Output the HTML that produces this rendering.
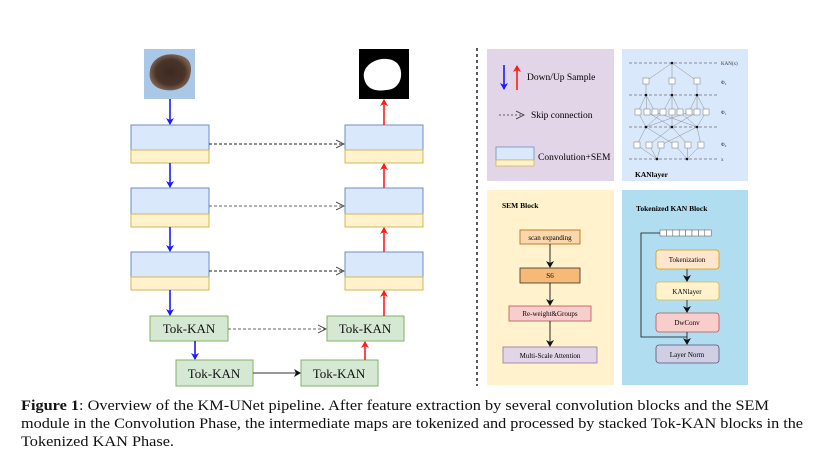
<!DOCTYPE html>
<html><head><meta charset="utf-8"><style>
html,body{margin:0;padding:0;background:#fff;}
svg{display:block;font-family:"Liberation Serif",serif;}
</style></head><body>
<svg width="817" height="471" viewBox="0 0 817 471" xmlns="http://www.w3.org/2000/svg">
<defs>
<marker id="ab" markerWidth="8" markerHeight="8" refX="6" refY="4" orient="auto" markerUnits="userSpaceOnUse"><path d="M0,0 L7,4 L0,8 L2,4z" fill="#1a1aff"/></marker>
<marker id="ar" markerWidth="8" markerHeight="8" refX="6" refY="4" orient="auto" markerUnits="userSpaceOnUse"><path d="M0,0 L7,4 L0,8 L2,4z" fill="#ff1a1a"/></marker>
<marker id="ak" markerWidth="8" markerHeight="8" refX="6" refY="4" orient="auto" markerUnits="userSpaceOnUse"><path d="M0,0 L7,4 L0,8 L2,4z" fill="#111"/></marker>
<marker id="ao" markerWidth="10" markerHeight="10" refX="8" refY="5" orient="auto" markerUnits="userSpaceOnUse"><path d="M0,1 L8,5 L0,9" fill="none" stroke="#333" stroke-width="0.8"/></marker>
<radialGradient id="les" cx="50%" cy="50%" r="50%"><stop offset="0" stop-color="#3b2a22"/><stop offset="0.7" stop-color="#4a3428"/><stop offset="1" stop-color="#7a6050"/></radialGradient>
</defs>

<!-- input image -->
<rect x="144" y="49" width="51" height="50" fill="#a9c8e8"/>
<path d="M150,70 C152,58 165,52 178,55 C190,57 193,66 190,76 C188,86 178,92 165,90 C153,88 148,80 150,70z" fill="url(#les)"/>
<!-- output mask -->
<rect x="359" y="49" width="50" height="50" fill="#000"/>
<path d="M364,78 C362,68 372,60 382,59 C392,58 400,62 401,72 C402,82 396,90 386,90 C374,92 366,88 364,78z" fill="#fff"/>

<!-- left blocks -->
<g stroke-width="1">
<rect x="131" y="125" width="78" height="25" fill="#dae8fc" stroke="#6c8ebf"/>
<rect x="131" y="150" width="78" height="13" fill="#fff2cc" stroke="#d6b656"/>
<rect x="131" y="188" width="78" height="26" fill="#dae8fc" stroke="#6c8ebf"/>
<rect x="131" y="214" width="78" height="13" fill="#fff2cc" stroke="#d6b656"/>
<rect x="131" y="252" width="78" height="25" fill="#dae8fc" stroke="#6c8ebf"/>
<rect x="131" y="277" width="78" height="13" fill="#fff2cc" stroke="#d6b656"/>
<rect x="345" y="125" width="78" height="25" fill="#dae8fc" stroke="#6c8ebf"/>
<rect x="345" y="150" width="78" height="13" fill="#fff2cc" stroke="#d6b656"/>
<rect x="345" y="188" width="78" height="26" fill="#dae8fc" stroke="#6c8ebf"/>
<rect x="345" y="214" width="78" height="13" fill="#fff2cc" stroke="#d6b656"/>
<rect x="345" y="252" width="78" height="25" fill="#dae8fc" stroke="#6c8ebf"/>
<rect x="345" y="277" width="78" height="13" fill="#fff2cc" stroke="#d6b656"/>
<rect x="150" y="316" width="78" height="25" fill="#d5e8d4" stroke="#82b366"/>
<rect x="327" y="316" width="77" height="25" fill="#d5e8d4" stroke="#82b366"/>
<rect x="176" y="360" width="77" height="26" fill="#d5e8d4" stroke="#82b366"/>
<rect x="301" y="360" width="77" height="26" fill="#d5e8d4" stroke="#82b366"/>
</g>
<g font-size="13" text-anchor="middle" fill="#111">
<text x="189" y="333">Tok-KAN</text>
<text x="365" y="333">Tok-KAN</text>
<text x="214" y="378">Tok-KAN</text>
<text x="339" y="378">Tok-KAN</text>
</g>
<!-- blue down arrows -->
<g stroke="#1a1aff" stroke-width="1.6" marker-end="url(#ab)">
<line x1="170" y1="99" x2="170" y2="124"/>
<line x1="170" y1="163" x2="170" y2="187"/>
<line x1="170" y1="227" x2="170" y2="251"/>
<line x1="170" y1="290" x2="170" y2="315"/>
<line x1="195" y1="341" x2="195" y2="359"/>
</g>
<g stroke="#ff1a1a" stroke-width="1.6" marker-end="url(#ar)">
<line x1="384" y1="125" x2="384" y2="100"/>
<line x1="384" y1="188" x2="384" y2="164"/>
<line x1="384" y1="252" x2="384" y2="228"/>
<line x1="384" y1="316" x2="384" y2="291"/>
<line x1="365" y1="360" x2="365" y2="342"/>
</g>
<g stroke="#222" stroke-width="0.9" stroke-dasharray="3,2" fill="none">
<line x1="209" y1="144" x2="344" y2="144" marker-end="url(#ao)"/>
<line x1="209" y1="206" x2="344" y2="206" marker-end="url(#ao)" stroke="#666"/>
<line x1="209" y1="271" x2="344" y2="271" marker-end="url(#ao)"/>
<line x1="228" y1="329" x2="326" y2="329" marker-end="url(#ao)" stroke="#666"/>
</g>
<line x1="253" y1="373" x2="300" y2="373" stroke="#333" stroke-width="0.9" marker-end="url(#ak)"/>

<!-- vertical divider -->
<line x1="477" y1="48" x2="477" y2="386" stroke="#000" stroke-width="1.3" stroke-dasharray="3,3"/>

<!-- legend panel -->
<rect x="487" y="49" width="127" height="132" fill="#e1d5e7"/>
<line x1="504" y1="65" x2="504" y2="89" stroke="#1a1aff" stroke-width="1.6" marker-end="url(#ab)"/>
<line x1="517" y1="90" x2="517" y2="66" stroke="#ff1a1a" stroke-width="1.6" marker-end="url(#ar)"/>
<text x="527" y="80" font-size="9.5">Down/Up Sample</text>
<line x1="499" y1="115" x2="524" y2="115" stroke="#333" stroke-width="0.8" stroke-dasharray="2,2" marker-end="url(#ao)"/>
<text x="531" y="118" font-size="9.5">Skip connection</text>
<rect x="496" y="147" width="38" height="13" fill="#dae8fc" stroke="#6c8ebf" stroke-width="0.8"/>
<rect x="496" y="160" width="38" height="6" fill="#fff2cc" stroke="#d6b656" stroke-width="0.8"/>
<text x="538" y="160" font-size="9.5">Convolution+SEM</text>

<!-- KAN layer panel -->
<rect x="622" y="49" width="126" height="132" fill="#dae8fc"/>
<g stroke="#333" stroke-width="0.6" stroke-dasharray="3,2">
<line x1="629" y1="63" x2="718" y2="63"/><line x1="629" y1="95" x2="718" y2="95"/>
<line x1="629" y1="127" x2="718" y2="127"/><line x1="629" y1="159" x2="718" y2="159"/>
</g>
<g stroke="#777" stroke-width="0.4" fill="none">
<path d="M672,63 L646,81 L646,95 M672,63 L672,95 M672,63 L697,81 L697,95"/>
<path d="M646,95 L638,112 L646,127 M646,95 L647,112 L672,127 M646,95 L655,112 L697,127 M672,95 L663,112 L646,127 M672,95 L672,112 L672,127 M672,95 L680,112 L697,127 M697,95 L689,112 L646,127 M697,95 L697,112 L672,127 M697,95 L706,112 L697,127"/>
<path d="M657,159 L637,145 L646,127 M657,159 L649,145 L672,127 M657,159 L661,145 L697,127 M687,159 L675,145 L646,127 M687,159 L688,145 L672,127 M687,159 L701,145 L697,127"/>
</g>
<g fill="#fff" stroke="#777" stroke-width="0.5">
<rect x="643" y="78" width="6" height="6"/><rect x="669" y="78" width="6" height="6"/><rect x="694" y="78" width="6" height="6"/>
<rect x="635" y="109" width="6" height="6"/><rect x="644" y="109" width="6" height="6"/><rect x="652" y="109" width="6" height="6"/><rect x="660" y="109" width="6" height="6"/><rect x="669" y="109" width="6" height="6"/><rect x="677" y="109" width="6" height="6"/><rect x="686" y="109" width="6" height="6"/><rect x="694" y="109" width="6" height="6"/><rect x="703" y="109" width="6" height="6"/>
<rect x="634" y="142" width="6" height="6"/><rect x="646" y="142" width="6" height="6"/><rect x="658" y="142" width="6" height="6"/><rect x="672" y="142" width="6" height="6"/><rect x="685" y="142" width="6" height="6"/><rect x="698" y="142" width="6" height="6"/>
</g>
<g fill="#111">
<circle cx="672" cy="63" r="1.3"/><circle cx="646" cy="95" r="1.3"/><circle cx="672" cy="95" r="1.3"/><circle cx="697" cy="95" r="1.3"/>
<circle cx="646" cy="127" r="1.3"/><circle cx="672" cy="127" r="1.3"/><circle cx="697" cy="127" r="1.3"/>
<circle cx="657" cy="159" r="1.3"/><circle cx="687" cy="159" r="1.3"/>
</g>
<g font-size="5" fill="#333"><text x="721" y="65">KAN(x)</text><text x="721" y="84">Φ₂</text><text x="721" y="114">Φ₁</text><text x="721" y="146">Φ₀</text><text x="721" y="161">x</text></g>
<text x="635" y="177" font-size="7.5" font-weight="bold">KANlayer</text>

<!-- SEM block -->
<rect x="487" y="190" width="127" height="195" fill="#fff2cc"/>
<text x="502" y="208" font-size="7.5" font-weight="bold">SEM Block</text>
<rect x="520" y="230" width="60" height="14" fill="#fad7ac" stroke="#b46504" stroke-width="0.8"/>
<text x="550" y="240" font-size="7" text-anchor="middle">scan expanding</text>
<rect x="520" y="268" width="60" height="15" fill="#f5b978" stroke="#333" stroke-width="0.8"/>
<text x="550" y="278" font-size="7" text-anchor="middle">S6</text>
<rect x="509" y="306" width="82" height="15" fill="#f8cecc" stroke="#b85450" stroke-width="0.8"/>
<text x="550" y="316" font-size="7" text-anchor="middle">Re-weight&amp;Groups</text>
<rect x="503" y="347" width="94" height="16" fill="#e1d5e7" stroke="#9673a6" stroke-width="0.8"/>
<text x="550" y="358" font-size="7" text-anchor="middle">Multi-Scale Attention</text>
<g stroke="#111" stroke-width="0.9" marker-end="url(#ak)">
<line x1="550" y1="244" x2="550" y2="267"/><line x1="550" y1="283" x2="550" y2="305"/><line x1="550" y1="321" x2="550" y2="346"/>
</g>

<!-- Tokenized KAN block -->
<rect x="622" y="190" width="126" height="195" fill="#b1ddf0"/>
<text x="636" y="211" font-size="7.5" font-weight="bold">Tokenized KAN Block</text>
<g fill="#fff" stroke="#555" stroke-width="0.5">
<rect x="660" y="230" width="6.4" height="6"/><rect x="666.4" y="230" width="6.4" height="6"/><rect x="672.8" y="230" width="6.4" height="6"/><rect x="679.2" y="230" width="6.4" height="6"/><rect x="685.6" y="230" width="6.4" height="6"/><rect x="692" y="230" width="6.4" height="6"/><rect x="698.4" y="230" width="6.4" height="6"/><rect x="704.8" y="230" width="6.4" height="6"/>
</g>
<polyline points="660,233 641,233 641,337 687,337" fill="none" stroke="#111" stroke-width="0.8"/>
<rect x="656" y="250" width="63" height="19" rx="3" fill="#ffe6cc" stroke="#d79b00" stroke-width="0.8"/>
<text x="687" y="262" font-size="7" text-anchor="middle">Tokenization</text>
<rect x="656" y="282" width="63" height="18" rx="3" fill="#fff2cc" stroke="#d6b656" stroke-width="0.8"/>
<text x="687" y="294" font-size="7" text-anchor="middle">KANlayer</text>
<rect x="656" y="313" width="63" height="19" rx="3" fill="#f8cecc" stroke="#b85450" stroke-width="0.8"/>
<text x="687" y="325" font-size="7" text-anchor="middle">DwConv</text>
<rect x="656" y="345" width="63" height="18" rx="3" fill="#d0cee2" stroke="#56517e" stroke-width="0.8"/>
<text x="687" y="357" font-size="7" text-anchor="middle">Layer Norm</text>
<g stroke="#111" stroke-width="0.8" marker-end="url(#ak)">
<line x1="687" y1="269" x2="687" y2="281"/><line x1="687" y1="300" x2="687" y2="312"/><line x1="687" y1="332" x2="687" y2="344"/>
</g>

<!-- caption -->
<g font-size="14.5" fill="#111">
<text x="21" y="410" textLength="748" lengthAdjust="spacingAndGlyphs"><tspan font-weight="bold">Figure 1</tspan>: Overview of the KM-UNet pipeline. After feature extraction by several convolution blocks and the SEM</text>
<text x="21" y="428" textLength="782" lengthAdjust="spacingAndGlyphs">module in the Convolution Phase, the intermediate maps are tokenized and processed by stacked Tok-KAN blocks in the</text>
<text x="21" y="446" textLength="153" lengthAdjust="spacingAndGlyphs">Tokenized KAN Phase.</text>
</g>
</svg>
</body></html>
